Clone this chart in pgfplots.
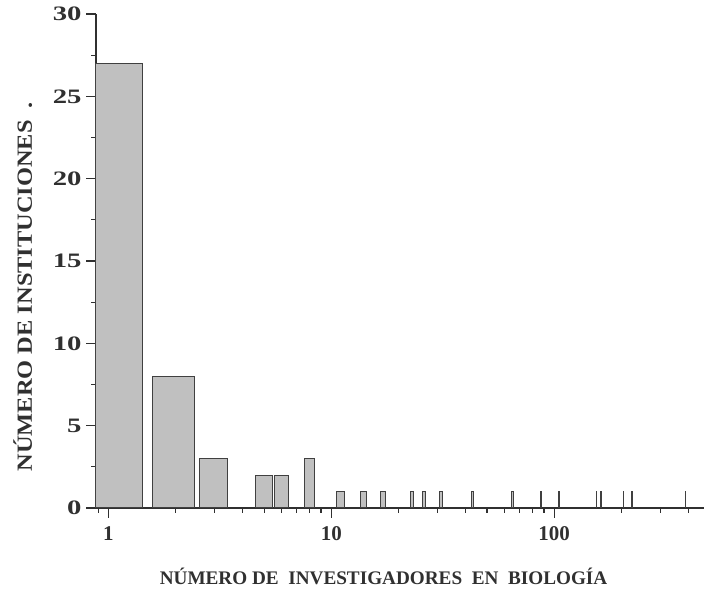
\documentclass[border=0pt]{standalone}
\usepackage{fontspec}
\setmainfont{Liberation Serif}
\newfontfamily\widefont[FakeStretch=1.4]{Liberation Serif}
\newfontfamily\ylabfont[FakeStretch=1.13]{Liberation Serif}
\usepackage{pgfplots}
\pgfplotsset{compat=1.18}
\definecolor{barfill}{HTML}{C0C0C0}
\definecolor{bardraw}{HTML}{404040}
\definecolor{axcol}{HTML}{303030}
\begin{document}
\begin{tikzpicture}
\path[use as bounding box] (-96pt,-85pt) rectangle (608pt,508pt);
\begin{axis}[
  at={(0pt,0pt)}, anchor=south west,
  scale only axis, width=608pt, height=494pt,
  xmode=log, xmin=0.88, xmax=470, ymin=0, ymax=30,
  axis lines*=left,
  axis line style={line width=1.5pt, color=axcol},
  xtick={1,10,100}, xticklabels={1,10,100},
  minor xtick={0.9,2,3,4,5,6,7,8,9,20,30,40,50,60,70,80,90,200,300,400},
  ytick={0,5,10,15,20,25,30},
  minor ytick={2.5,7.5,12.5,17.5,22.5,27.5},
  tick align=outside,
  major tick length=10pt, minor tick length=5pt,
  every tick/.style={line width=1.3pt, color=axcol},
  /pgf/number format/assume math mode=true,
  x tick label style={font=\fontsize{21}{22}\selectfont\bfseries, color=axcol, yshift=-5pt},
  y tick label style={font=\widefont\fontsize{20.5}{22}\selectfont\bfseries, color=axcol, xshift=-1pt},
  every axis x label/.style={at={(rel axis cs:0.473,0)}, anchor=base, yshift=-77pt},
  every axis y label/.style={at={(rel axis cs:0,0.448)}, rotate=90, anchor=base, yshift=64pt},
  x label style={font=\fontsize{19.2}{20}\selectfont\bfseries, color=axcol},
  y label style={font=\ylabfont\fontsize{21.6}{22}\selectfont\bfseries, color=axcol},
  xlabel={NÚMERO DE\ \ INVESTIGADORES\ \ EN\ \ BIOLOGÍA},
  ylabel={NÚMERO DE INSTITUCIONES\hspace{12pt}.},
  clip=true,
  bar/.style={fill=barfill, draw=bardraw, line width=1pt},
]
\addplot[bar] coordinates {(0.57,0) (0.57,27) (1.43,27) (1.43,0)} --cycle;
\addplot[bar] coordinates {(1.57,0) (1.57,8) (2.43,8) (2.43,0)} --cycle;
\addplot[bar] coordinates {(2.57,0) (2.57,3) (3.43,3) (3.43,0)} --cycle;
\addplot[bar] coordinates {(4.57,0) (4.57,2) (5.43,2) (5.43,0)} --cycle;
\addplot[bar] coordinates {(5.57,0) (5.57,2) (6.43,2) (6.43,0)} --cycle;
\addplot[bar] coordinates {(7.57,0) (7.57,3) (8.43,3) (8.43,0)} --cycle;
\addplot[bar] coordinates {(10.57,0) (10.57,1) (11.43,1) (11.43,0)} --cycle;
\addplot[bar] coordinates {(13.57,0) (13.57,1) (14.43,1) (14.43,0)} --cycle;
\addplot[bar] coordinates {(16.57,0) (16.57,1) (17.43,1) (17.43,0)} --cycle;
\addplot[bar] coordinates {(22.57,0) (22.57,1) (23.43,1) (23.43,0)} --cycle;
\addplot[bar] coordinates {(25.57,0) (25.57,1) (26.43,1) (26.43,0)} --cycle;
\addplot[bar] coordinates {(30.57,0) (30.57,1) (31.43,1) (31.43,0)} --cycle;
\addplot[bar] coordinates {(42.57,0) (42.57,1) (43.43,1) (43.43,0)} --cycle;
\addplot[bar] coordinates {(64.57,0) (64.57,1) (65.43,1) (65.43,0)} --cycle;
\addplot[bar] coordinates {(86.57,0) (86.57,1) (87.43,1) (87.43,0)} --cycle;
\addplot[bar] coordinates {(104.57,0) (104.57,1) (105.43,1) (105.43,0)} --cycle;
\addplot[bar] coordinates {(154.57,0) (154.57,1) (155.43,1) (155.43,0)} --cycle;
\addplot[bar] coordinates {(161.57,0) (161.57,1) (162.43,1) (162.43,0)} --cycle;
\addplot[bar] coordinates {(204.57,0) (204.57,1) (205.43,1) (205.43,0)} --cycle;
\addplot[bar] coordinates {(222.57,0) (222.57,1) (223.43,1) (223.43,0)} --cycle;
\addplot[bar] coordinates {(386.57,0) (386.57,1) (387.43,1) (387.43,0)} --cycle;
\end{axis}
\end{tikzpicture}
\end{document}
